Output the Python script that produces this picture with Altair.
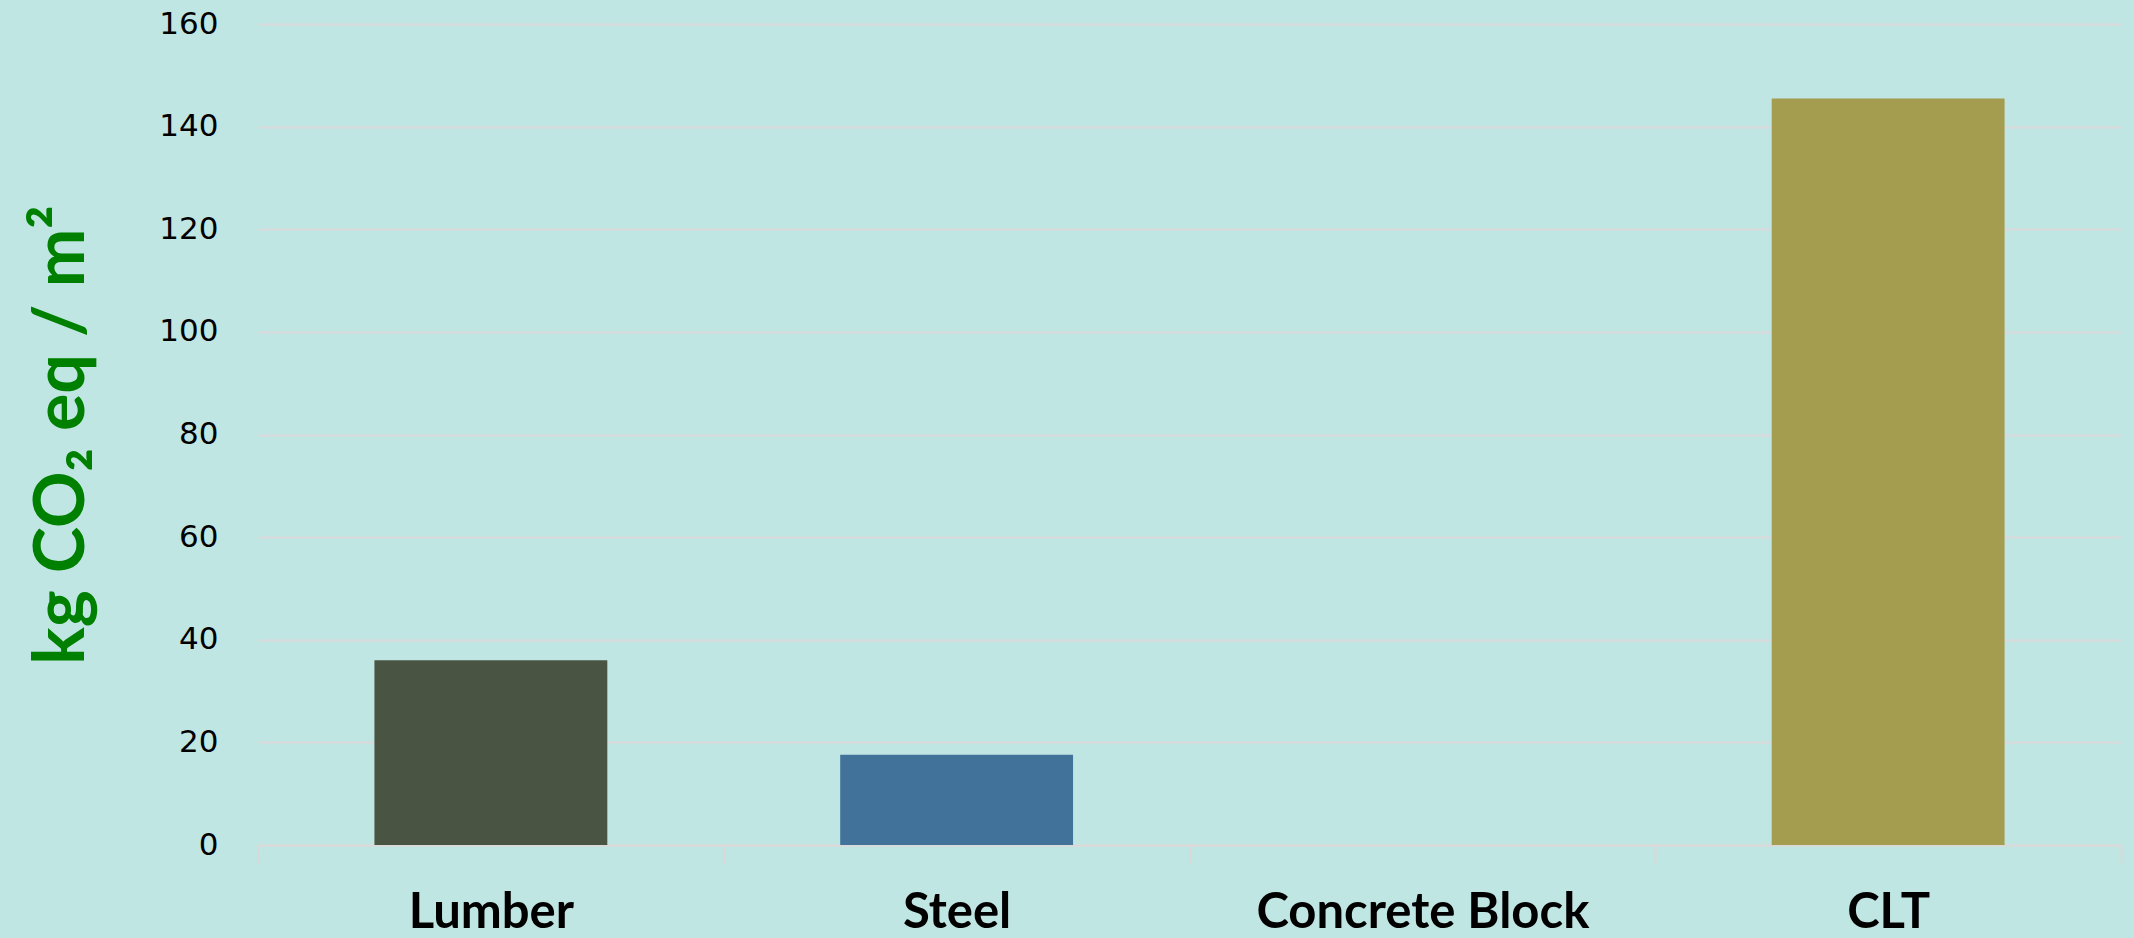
import altair as alt
import pandas as pd

categories = ["Lumber", "Steel", "Concrete Block", "CLT"]
values = [36.0, 17.6, 0.0, 145.5]
colors = ["#4a5442", "#41739a", "#c0e6e4", "#a49c4f"]
y_ticks = [0, 20, 40, 60, 80, 100, 120, 140, 160]

df = pd.DataFrame({"category": categories, "value": values})

chart = (
    alt.Chart(df)
    .mark_bar(width=alt.RelativeBandSize(0.5))
    .encode(
        x=alt.X(
            "category:N",
            sort=categories,
            scale=alt.Scale(paddingInner=0, paddingOuter=0),
            axis=alt.Axis(
                title=None,
                labelAngle=0,
                labelFont="Lato",
                labelFontWeight="bold",
                labelFontSize=49,
                labelColor="#000000",
                labelPadding=25,
                labelLimit=0,
                domainColor="#d9d9d9",
                domainWidth=2,
                tickColor="#d9d9d9",
                tickWidth=2,
                tickSize=18,
                tickBand="extent",
                grid=False,
            ),
        ),
        y=alt.Y(
            "value:Q",
            scale=alt.Scale(domain=[0, 160], nice=False),
            axis=alt.Axis(
                title="kg CO₂ eq / m²",
                titleFont="Lato",
                titleFontWeight="bold",
                titleFontSize=70,
                titleColor="#008000",
                titlePadding=60,
                values=y_ticks,
                labelFont="DejaVu Sans",
                labelFontSize=31,
                labelColor="#000000",
                labelPadding=40,
                domain=False,
                ticks=False,
                gridColor="#d9d9d9",
                gridWidth=2,
            ),
        ),
        color=alt.Color(
            "category:N",
            scale=alt.Scale(domain=categories, range=colors),
            legend=None,
        ),
    )
    .properties(
        width=1863,
        height=821,
        background="#c0e6e4",
        padding={"left": 258, "top": 24, "right": 13, "bottom": 93},
        autosize=alt.AutoSizeParams(type="none"),
    )
    .configure_view(stroke=None, fill="#c0e6e4")
)

chart.save("out.html", embed_options={"renderer": "svg", "actions": False})
